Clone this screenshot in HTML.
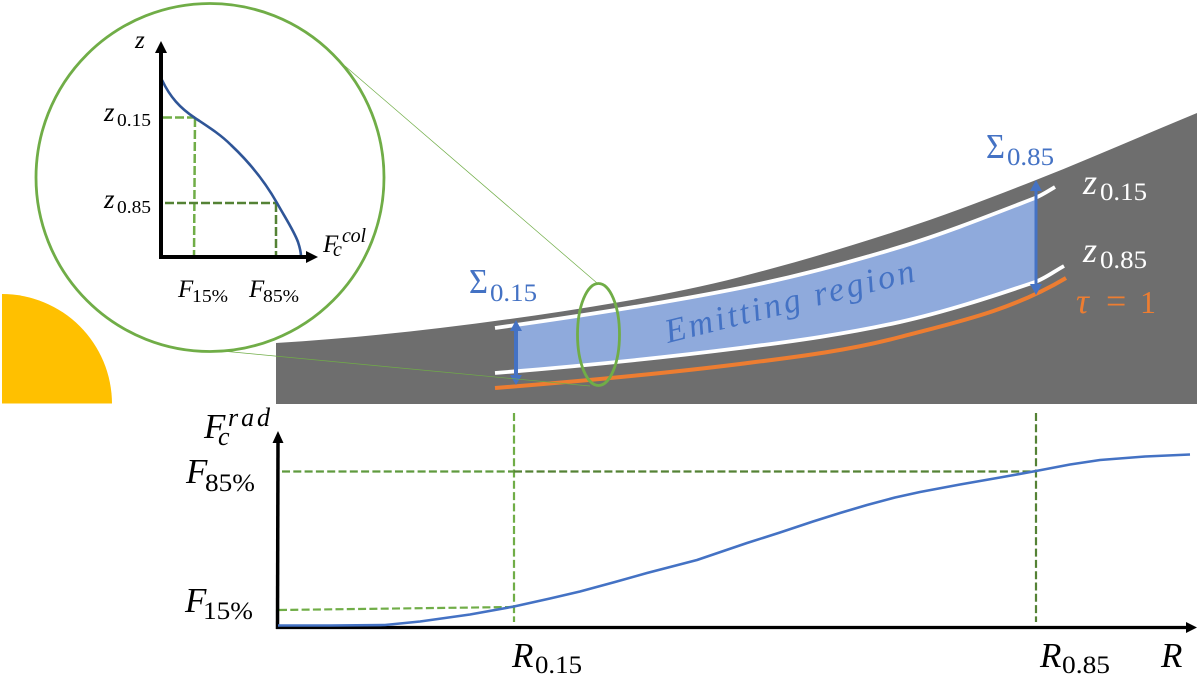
<!DOCTYPE html>
<html>
<head>
<meta charset="utf-8">
<style>
html,body{margin:0;padding:0;background:#fff;width:1200px;height:677px;overflow:hidden}
svg{display:block;filter:blur(0.35px)}
text{font-family:"Liberation Serif",serif}
.i{font-style:italic}
</style>
</head>
<body>
<svg width="1200" height="677" viewBox="0 0 1200 677" xmlns="http://www.w3.org/2000/svg">
<defs>
<clipPath id="cl"><rect x="516" y="150" width="519" height="250"/></clipPath>
</defs>

<!-- sun -->
<path d="M2 294A110 110 0 0 1 112 403.500L2 403.500Z" fill="#ffc000"/>

<!-- disc -->
<path d="M276 343C330.700 339.700 385.300 334.500 440 328C500 320.900 560 312.200 620 302C660 295.200 700 287.300 740 277C793.300 263.300 846.700 247.500 900 230C945.300 215.100 990.700 197.900 1036 180C1089.300 158.900 1142.700 135.400 1197 113L1197 404L276 404Z" fill="#6e6e6e"/>

<!-- emitting region -->
<path clip-path="url(#cl)" d="M495 328C576.700 316.600 658.300 304.300 740 288C793.300 277.300 846.700 263.300 900 247C945 233.300 990 215.400 1035 198L1035 282C990 297.300 945 311.900 900 322C846.700 333.900 793.300 341.300 740 348C658.300 358.300 576.700 366.500 495 373Z" fill="#8faadc"/>

<!-- white curves -->
<path d="M495 328C576.700 316.600 658.300 304.300 740 288C793.300 277.300 846.700 263.300 900 247C945 233.300 990 215.400 1035 198C1041.700 195.400 1048.300 191 1055 187" fill="none" stroke="#fff" stroke-width="3.800"/>
<path d="M495 373C576.700 366.500 658.300 358.300 740 348C793.300 341.300 846.700 333.900 900 322C945 311.900 990 297.300 1035 282C1044.700 278.700 1054.300 271.300 1064 266" fill="none" stroke="#fff" stroke-width="3.800"/>
<!-- orange -->
<path d="M495 388C576.700 381.500 658.300 374.200 740 364C793.300 357.300 846.700 351.100 900 337C955.300 322.400 1010.700 311 1066 278" fill="none" stroke="#ed7d31" stroke-width="4"/>

<!-- blue arrows -->
<line x1="516" y1="330" x2="516" y2="376" stroke="#4472c4" stroke-width="4"/>
<path d="M516 320L522 331L510 331Z" fill="#4472c4"/>
<path d="M516 385L522 375L510 375Z" fill="#4472c4"/>
<line x1="1036" y1="190" x2="1036" y2="287" stroke="#4472c4" stroke-width="3"/>
<path d="M1036 180L1042 191L1030 191Z" fill="#4472c4"/>
<path d="M1036 295L1042 284L1030 284Z" fill="#4472c4"/>

<!-- zoom guide lines -->
<line x1="345" y1="66" x2="597" y2="283" stroke="#70ad47" stroke-width="0.700"/>
<line x1="222" y1="351" x2="590" y2="386" stroke="#70ad47" stroke-width="0.700"/>

<!-- ellipse -->
<ellipse cx="598.500" cy="334.500" rx="21" ry="51" fill="none" stroke="#70ad47" stroke-width="2.800"/>

<!-- circle inset -->
<circle cx="210" cy="177.500" r="174" fill="#fff" stroke="#70ad47" stroke-width="2.800"/>

<!-- inset dashes -->
<g fill="none" stroke-width="2.500" stroke-dasharray="9 3">
<path d="M163 117.500L195 117.500" stroke="#70ad47"/>
<path d="M195 118L194 257" stroke="#70ad47"/>
<path d="M165 203L276 203" stroke="#548235"/>
<path d="M276 203L276 257" stroke="#548235"/>
</g>
<!-- inset curve -->
<path d="M162 80C170 97 180 108 195 118C207 126 220 134 231 145C248 161 264 180 277 203C286 219 294 231 298 242C300 248 301 252 301 257" fill="none" stroke="#2f5597" stroke-width="2.600"/>
<!-- inset axes -->
<path d="M161 259L161 50" stroke="#000" stroke-width="4" fill="none"/>
<path d="M159 257L310 257" stroke="#000" stroke-width="4" fill="none"/>
<path d="M161 41L167 53L155 53Z" fill="#000"/>
<path d="M318 257L306 263L306 251Z" fill="#000"/>

<!-- bottom dashes -->
<g fill="none" stroke-width="2.200" stroke-dasharray="8 3.300">
<path d="M514 413L514 622" stroke="#70ad47"/>
<path d="M1036 413L1036 622" stroke="#548235"/>
<path d="M282 471.500L514 471.500" stroke="#5f9a3e"/>
<path d="M514 471.500L1036 471.500" stroke="#548235"/>
<path d="M279 610L514 607" stroke="#70ad47"/>
</g>
<!-- bottom axes -->
<path d="M277.500 629L278 440" stroke="#000" stroke-width="3.500" fill="none"/>
<path d="M276 627.500L1190 627.500" stroke="#000" stroke-width="3.200" fill="none"/>
<path d="M278 431L283.500 443L272.500 443Z" fill="#000"/>
<path d="M1197 627.500L1186 633L1186 622Z" fill="#000"/>
<!-- bottom curve -->
<polyline points="278,625.500 330,625.500 385,625 420,621.500 470,614.500 514,606.500 550,598.500 580,591.500 615,582 647,573 697,560 747,543 780,532.500 813,521.500 840,513 867,505 895,497.500 920,492 960,484.500 1000,477.500 1036,471 1070,464.500 1100,460 1145,456.500 1190,454.500" fill="none" stroke="#4472c4" stroke-width="2.600" stroke-linejoin="round"/>

<!-- Emitting region label -->
<text class="i" transform="translate(668 343) rotate(-14)" font-size="34" fill="#4472c4" textLength="256" lengthAdjust="spacing">Emitting region</text>

<!-- Sigma labels -->
<text x="469" y="293" font-size="35" fill="#4472c4" textLength="19" lengthAdjust="spacingAndGlyphs">Σ</text>
<text x="490" y="301" font-size="25" fill="#4472c4" textLength="47" lengthAdjust="spacingAndGlyphs">0.15</text>
<text x="986" y="158" font-size="35" fill="#4472c4" textLength="19" lengthAdjust="spacingAndGlyphs">Σ</text>
<text x="1007" y="165" font-size="25" fill="#4472c4" textLength="47" lengthAdjust="spacingAndGlyphs">0.85</text>

<!-- z labels on disc -->
<text class="i" x="1083" y="194" font-size="36" fill="#fff">z</text>
<text x="1100" y="200" font-size="25" fill="#fff" textLength="47" lengthAdjust="spacingAndGlyphs">0.15</text>
<text class="i" x="1083" y="262" font-size="36" fill="#fff">z</text>
<text x="1100" y="268" font-size="25" fill="#fff" textLength="47" lengthAdjust="spacingAndGlyphs">0.85</text>
<text x="1076" y="313" font-size="36" fill="#ed7d31" class="i">τ</text>
<text x="1106" y="313" font-size="36" fill="#ed7d31">=</text>
<text x="1140" y="313" font-size="32" fill="#ed7d31">1</text>

<!-- inset labels -->
<text class="i" x="135" y="48" font-size="25" fill="#000">z</text>
<text class="i" x="104" y="121" font-size="27" fill="#000">z</text>
<text x="117" y="126" font-size="18" fill="#000" textLength="34" lengthAdjust="spacingAndGlyphs">0.15</text>
<text class="i" x="104" y="208" font-size="27" fill="#000">z</text>
<text x="117" y="213" font-size="18" fill="#000" textLength="34" lengthAdjust="spacingAndGlyphs">0.85</text>
<text class="i" x="178" y="297" font-size="25" fill="#000">F</text>
<text x="192" y="302" font-size="18" fill="#000" textLength="36" lengthAdjust="spacingAndGlyphs">15%</text>
<text class="i" x="249" y="297" font-size="25" fill="#000">F</text>
<text x="263" y="302" font-size="18" fill="#000" textLength="36" lengthAdjust="spacingAndGlyphs">85%</text>
<text class="i" x="323" y="252" font-size="25" fill="#000">F</text>
<text class="i" x="333" y="256" font-size="20" fill="#000">c</text>
<text class="i" x="342" y="242" font-size="20" fill="#000" textLength="24" lengthAdjust="spacing">col</text>

<!-- bottom plot labels -->
<text class="i" x="204" y="438" font-size="35" fill="#000">F</text>
<text class="i" x="218" y="445" font-size="26" fill="#000">c</text>
<text class="i" x="228" y="426" font-size="26" fill="#000" textLength="42" lengthAdjust="spacing">rad</text>
<text class="i" x="186" y="483" font-size="35" fill="#000">F</text>
<text x="205" y="491" font-size="25" fill="#000" textLength="50" lengthAdjust="spacingAndGlyphs">85%</text>
<text class="i" x="185" y="612" font-size="35" fill="#000">F</text>
<text x="203" y="619" font-size="25" fill="#000" textLength="50" lengthAdjust="spacingAndGlyphs">15%</text>
<text class="i" x="512" y="667" font-size="35" fill="#000">R</text>
<text x="535" y="673" font-size="25" fill="#000" textLength="47" lengthAdjust="spacingAndGlyphs">0.15</text>
<text class="i" x="1040" y="667" font-size="35" fill="#000">R</text>
<text x="1062" y="673" font-size="25" fill="#000" textLength="48" lengthAdjust="spacingAndGlyphs">0.85</text>
<text class="i" x="1161" y="667" font-size="35" fill="#000">R</text>
</svg>
</body>
</html>
